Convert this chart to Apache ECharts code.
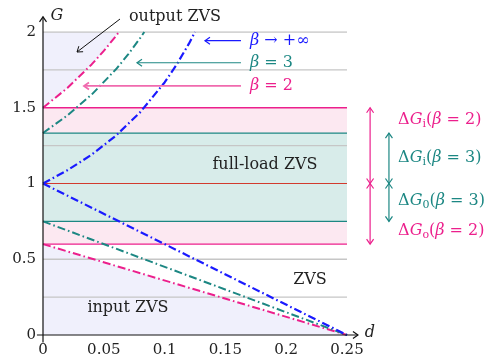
<!DOCTYPE html>
<html><head><meta charset="utf-8">
<script src="https://cdn.jsdelivr.net/npm/echarts@6/dist/echarts.min.js"></script>
<style>html,body{margin:0;padding:0;background:#fff}#c{width:490px;height:361px}</style>
</head><body><div id="c"></div>
<script>
// ---- data ----
const dTicks = [0, 0.05, 0.1, 0.15, 0.2, 0.25];
const gTicks = [0, 0.5, 1, 1.5, 2];
const grayLevels = [0.25, 0.5, 1.25, 1.75, 2];
const beta2Band = [0.6, 1.5];
const beta3Band = [0.75, 1.333];
const fullLoadLevel = [1];
// upper (output) boundaries
const betaInfUpper = [[0,1],[0.02,1.087],[0.04,1.19],[0.06,1.316],[0.08,1.471],[0.1,1.667],[0.11,1.786],[0.12,1.923],[0.125,2]];
const beta3Upper = [[0,1.333],[0.02,1.449],[0.04,1.587],[0.06,1.754],[0.07,1.852],[0.08,1.961],[0.0833,2]];
const beta2Upper = [[0,1.5],[0.02,1.63],[0.04,1.786],[0.05,1.875],[0.06,1.974],[0.0625,2]];
// lower (input) boundaries
const betaInfLower = [[0,1],[0.25,0]];
const beta3Lower = [[0,0.75],[0.25,0]];
const beta2Lower = [[0,0.6],[0.25,0]];

const PINK = '#ec1f8c', TEAL = '#1c8783', BLUE = '#1a1aff', RED = '#d23a2e', GRAY = '#c6c6c6';
const FONT = 'DejaVu Serif';

const polys = [
  {pts: [[0,0]].concat(beta2Lower), color: '#f0f0fc'},
  {pts: [[0,2]].concat(beta2Upper), color: '#f0f0fc'},
  {pts: [[0,beta2Band[0]],[0.25,beta2Band[0]],[0.25,beta2Band[1]],[0,beta2Band[1]]], color: '#fce8f1'},
  {pts: [[0,beta3Band[0]],[0.25,beta3Band[0]],[0.25,beta3Band[1]],[0,beta3Band[1]]], color: '#d8ecea'}
];

function hline(g, color, w, z) {
  return {type:'line', data:[[0,g],[0.25,g]], symbol:'none', silent:true, z:z,
    lineStyle:{color:color, width:w}};
}
function curve(data, color, w) {
  return {type:'line', data:data, symbol:'none', silent:true, z:5, clip:false, smooth:false,
    lineStyle:{color:color, width:w, type:[8,3,1.6,3], cap:'butt'}};
}

const series = [
  {type:'custom', z:1, silent:true, data: polys.map((p,i)=>[i]),
   renderItem:(params, api)=>{
     const p = polys[params.dataIndex];
     return {type:'polygon', shape:{points:p.pts.map(q=>api.coord(q))}, style:{fill:p.color}};
   }}
];
grayLevels.forEach(g=>series.push(hline(g, GRAY, 1.4, 2)));
beta2Band.forEach(g=>series.push(hline(g, PINK, 1.3, 3)));
beta3Band.forEach(g=>series.push(hline(g, TEAL, 1.3, 3)));
fullLoadLevel.forEach(g=>series.push(hline(g, RED, 1.1, 3)));
series.push(curve(beta2Upper, PINK, 2), curve(beta2Lower, PINK, 2),
            curve(beta3Upper, TEAL, 2), curve(beta3Lower, TEAL, 2),
            curve(betaInfUpper, BLUE, 2.2), curve(betaInfLower, BLUE, 2.2));

const chart = echarts.init(document.getElementById('c'), null, {renderer:'canvas'});
chart.setOption({
  animation:false,
  grid:{left:43, right:143, top:32, bottom:26, containLabel:false},
  xAxis:{type:'value', min:0, max:0.25, interval:0.05,
    axisLine:{show:false}, axisTick:{show:false}, splitLine:{show:false},
    axisLabel:{fontFamily:FONT, fontSize:15, color:'#222', margin:8,
      formatter:v=>{const i=dTicks.findIndex(t=>Math.abs(t-v)<1e-9); return i>=0?String(dTicks[i]):'';}}},
  yAxis:{type:'value', min:0, max:2, interval:0.5,
    axisLine:{show:false}, axisTick:{show:false}, splitLine:{show:false},
    axisLabel:{fontFamily:FONT, fontSize:15, color:'#222', margin:7,
      formatter:v=>{const i=gTicks.findIndex(t=>Math.abs(t-v)<1e-9); return i>=0?String(gTicks[i]):'';}}},
  series:series
});

const px = (d,g)=>chart.convertToPixel({gridIndex:0},[d,g]);
function head(tip, from, color, w) {
  const dx = tip[0]-from[0], dy = tip[1]-from[1], L = Math.hypot(dx,dy);
  const ux = dx/L, uy = dy/L, nx = -uy, ny = ux, len = 5, sp = 3.5;
  return {type:'polyline', z:20, silent:true,
    shape:{points:[[tip[0]-ux*len+nx*sp, tip[1]-uy*len+ny*sp], tip, [tip[0]-ux*len-nx*sp, tip[1]-uy*len-ny*sp]]},
    style:{stroke:color, lineWidth:w||1, fill:null}};
}
function arrow(a, b, color, w, both) {
  const els = [{type:'line', z:20, silent:true, shape:{x1:a[0],y1:a[1],x2:b[0],y2:b[1]}, style:{stroke:color, lineWidth:w||1}},
    head(b, a, color, w)];
  if (both) els.push(head(a, b, color, w));
  return els;
}
const FS = 16;
function txt(x, y, rich, text, align, color) {
  return {type:'text', z:30, silent:true, x:x, y:y,
    style:{text:text, rich:rich, fill:color||'#222', font:FS+'px "'+FONT+'"', align:align||'left', verticalAlign:'middle'}};
}
function rs(color) {
  return {
    n:{fontFamily:FONT, fontSize:FS, fill:color},
    it:{fontFamily:FONT, fontSize:FS, fontStyle:'italic', fill:color},
    sub:{fontFamily:FONT, fontSize:11, fill:color, padding:[9,0,0,0]}
  };
}

const g = [];
// axes
const xa0 = px(-0.005,0), xa1 = px(0.259,0), ya0 = px(0,-0.05), ya1 = px(0,2.1);
g.push(...arrow(xa0, xa1, '#111', 1.2));
g.push(...arrow(ya0, ya1, '#111', 1.2));
g.push(txt(ya1[0]+14, ya1[1]-1, rs('#222'), '{it|G}', 'center', '#222'));
g.push(txt(xa1[0]+12, xa1[1]-2, rs('#222'), '{it|d}', 'center', '#222'));
// output ZVS
g.push(txt(175, 17, null, 'output ZVS', 'center', '#222'));
g.push(...arrow([120,19], [77,52], '#111', 1));
// beta labels with arrows
const labD = 0.1628;
const bI = 1.943, b3 = 1.797, b2 = 1.644;
g.push(...arrow(px(labD,bI), px(0.1332,bI), BLUE, 1.2));
g.push(...arrow(px(labD,b3), px(0.0773,b3), TEAL, 1.2));
g.push(...arrow(px(labD,b2), px(0.0337,b2), '#f06aae', 1.8));
const lx = px(labD,0)[0]+9;
g.push(txt(lx, px(0,bI)[1], rs(BLUE), '{it|β}{n| → +∞}', 'left', BLUE));
g.push(txt(lx, px(0,b3)[1], rs(TEAL), '{it|β}{n| = 3}', 'left', TEAL));
g.push(txt(lx, px(0,b2)[1], rs(PINK), '{it|β}{n| = 2}', 'left', PINK));
// region labels
g.push(txt(265, 165, null, 'full-load ZVS', 'center', '#222'));
g.push(txt(310, 280, null, 'ZVS', 'center', '#222'));
g.push(txt(128, 308, null, 'input ZVS', 'center', '#222'));
// right side delta arrows
const pX = 0.269, tX = 0.2845;
g.push(...arrow(px(pX,1), px(pX,beta2Band[1]), PINK, 1.2, true));
g.push(...arrow(px(pX,1), px(pX,beta2Band[0]), PINK, 1.2, true));
g.push(...arrow(px(tX,1), px(tX,beta3Band[1]), TEAL, 1.2, true));
g.push(...arrow(px(tX,1), px(tX,beta3Band[0]), TEAL, 1.2, true));
const dx = px(0.292,0)[0];
g.push(txt(dx, px(0,1.419)[1], rs(PINK), '{n|Δ}{it|G}{sub|i}{n|(}{it|β}{n| = 2)}', 'left', PINK));
g.push(txt(dx, px(0,1.168)[1], rs(TEAL), '{n|Δ}{it|G}{sub|i}{n|(}{it|β}{n| = 3)}', 'left', TEAL));
g.push(txt(dx, px(0,0.884)[1], rs(TEAL), '{n|Δ}{it|G}{sub|0}{n|(}{it|β}{n| = 3)}', 'left', TEAL));
g.push(txt(dx, px(0,0.686)[1], rs(PINK), '{n|Δ}{it|G}{sub|o}{n|(}{it|β}{n| = 2)}', 'left', PINK));
chart.setOption({graphic:{elements:g}});
</script></body></html>
